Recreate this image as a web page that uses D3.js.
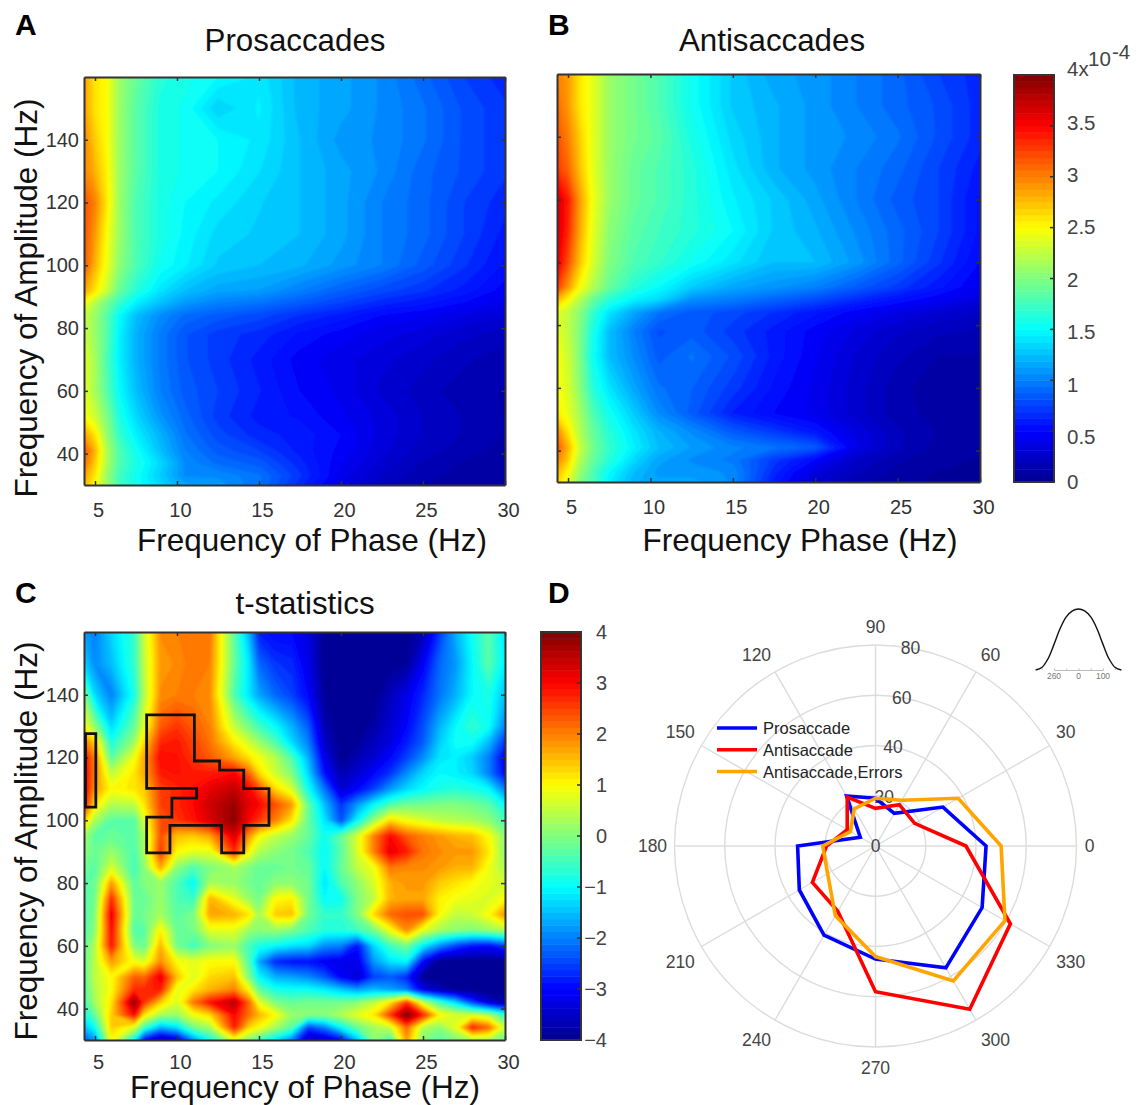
<!DOCTYPE html>
<html>
<head>
<meta charset="utf-8">
<script src="https://cdn.jsdelivr.net/npm/d3@7"></script>
<style>
  body { margin: 0; background: #fff; }
  svg text { font-family: "Liberation Sans", Arial, sans-serif; }
</style>
</head>
<body>
<svg id="fig" width="1136" height="1105"></svg>
<script>
// frequency nodes for the two upper maps
const phaseNodes = [4.3, 5, 5.7, 6.5, 7.5, 9, 10.5, 12.5, 15, 17.5, 20, 22.5, 25, 27.5, 30];
const ampNodes = [160, 150, 140, 130, 120, 110, 100, 92, 88, 84, 78, 70, 60, 52, 46, 41, 37, 33, 30];

// values x 10^-4, one row per ampNodes entry
const proMap = [
  [2.9, 2.6, 2.5, 2.1, 1.9, 1.65, 1.58, 1.5, 1.42, 1.22, 1.15, 1.05, .9, .75, .65],
  [2.9, 2.6, 2.5, 2.1, 1.85, 1.6, 1.55, 1.32, 1.45, 1.22, 1.15, 1.05, .95, .8, .7],
  [3.0, 2.7, 2.5, 2.1, 1.85, 1.6, 1.55, 1.5, 1.42, 1.25, 1.1, 1.05, .95, .8, .7],
  [3.0, 2.8, 2.55, 2.1, 1.85, 1.6, 1.55, 1.5, 1.38, 1.25, 1.15, 1.05, .9, .8, .7],
  [3.2, 3.0, 2.6, 2.1, 1.8, 1.6, 1.5, 1.42, 1.32, 1.25, 1.15, 1.0, .9, .75, .65],
  [3.2, 2.9, 2.5, 2.1, 1.8, 1.6, 1.48, 1.35, 1.3, 1.25, 1.15, 1.0, .9, .75, .6],
  [3.2, 2.8, 2.45, 2.05, 1.8, 1.55, 1.45, 1.3, 1.25, 1.2, 1.1, 1, .85, .7, .55],
  [2.9, 2.6, 2.3, 1.9, 1.65, 1.4, 1.25, 1.15, 1.12, 1.0, .88, .78, .7, .6, .47],
  [2.5, 2.2, 1.95, 1.7, 1.45, 1.25, 1.1, 1.0, .95, .85, .75, .65, .58, .5, .4],
  [2.3, 2.1, 1.85, 1.5, 1.25, 1.05, .92, .85, .78, .68, .6, .5, .45, .38, .32],
  [2.3, 2.1, 1.85, 1.45, 1.2, .98, .82, .72, .66, .55, .47, .4, .34, .27, .22],
  [2.4, 2.15, 1.8, 1.45, 1.2, .98, .82, .72, .6, .47, .4, .33, .27, .2, .15],
  [2.4, 2.15, 1.85, 1.5, 1.25, 1, .85, .75, .63, .5, .42, .3, .22, .15, .12],
  [2.5, 2.3, 2, 1.6, 1.35, 1.08, .9, .72, .6, .55, .45, .35, .25, .18, .12],
  [2.9, 2.6, 2.1, 1.7, 1.45, 1.2, .95, .78, .65, .6, .5, .35, .25, .18, .12],
  [3.2, 2.8, 2.2, 1.8, 1.55, 1.25, 1, .85, .75, .6, .48, .33, .22, .15, .1],
  [3.1, 2.7, 2.2, 1.8, 1.6, 1.35, 1.05, .92, .85, .65, .45, .3, .18, .12, .1],
  [2.9, 2.6, 2.1, 1.75, 1.55, 1.3, 1.05, 1.05, .95, .7, .42, .25, .15, .1, .08],
  [2.8, 2.5, 2.1, 1.75, 1.55, 1.35, 1.15, 1.1, .95, .65, .38, .22, .12, .08, .06]
];

const antiMap = [
  [3.0, 2.9, 2.6, 2.4, 2.1, 1.95, 1.8, 1.55, 1.3, 1.15, 1.1, 1.0, .9, .75, .65],
  [3.1, 2.9, 2.6, 2.4, 2.1, 1.95, 1.8, 1.55, 1.3, 1.2, 1.1, 1.0, .9, .8, .65],
  [3.2, 3.0, 2.7, 2.4, 2.1, 1.95, 1.85, 1.6, 1.35, 1.2, 1.1, 1.05, .95, .8, .65],
  [3.3, 3.1, 2.75, 2.4, 2.1, 1.9, 1.8, 1.65, 1.4, 1.2, 1.1, 1.0, .9, .75, .6],
  [3.7, 3.4, 2.9, 2.45, 2.1, 1.9, 1.8, 1.65, 1.45, 1.3, 1.15, 1.0, .85, .75, .55],
  [3.7, 3.35, 2.85, 2.4, 2.05, 1.85, 1.75, 1.65, 1.5, 1.3, 1.2, 1.05, .9, .75, .55],
  [3.6, 3.2, 2.75, 2.35, 2.0, 1.8, 1.7, 1.55, 1.4, 1.25, 1.25, 1.1, .9, .7, .5],
  [3.3, 2.9, 2.5, 2.2, 1.9, 1.65, 1.5, 1.3, 1.15, 1.08, 1.0, .85, .72, .58, .43],
  [2.8, 2.5, 2.2, 1.9, 1.65, 1.45, 1.35, 1.05, .98, .88, .78, .66, .55, .45, .35],
  [2.4, 2.25, 2.05, 1.7, 1.4, 1.15, .95, .85, .78, .68, .58, .47, .38, .3, .25],
  [2.4, 2.25, 2, 1.6, 1.25, 1.0, .8, .85, .72, .6, .47, .36, .26, .2, .18],
  [2.5, 2.3, 2, 1.55, 1.25, 1.05, .85, .95, .8, .6, .45, .3, .2, .12, .12],
  [2.5, 2.35, 2.05, 1.65, 1.4, 1.15, .95, .88, .72, .55, .42, .28, .15, .08, .08],
  [2.6, 2.4, 2.15, 1.8, 1.55, 1.3, 1.05, .85, .62, .5, .42, .28, .15, .1, .08],
  [3.0, 2.6, 2.2, 1.9, 1.65, 1.4, 1.2, 1.05, .85, .72, .58, .36, .2, .12, .08],
  [3.2, 2.8, 2.3, 1.95, 1.7, 1.45, 1.25, 1.12, 1.02, .95, .85, .4, .2, .1, .08],
  [3.0, 2.7, 2.2, 1.9, 1.65, 1.35, 1.15, 1.05, .98, .72, .5, .25, .14, .08, .06],
  [2.8, 2.5, 2.1, 1.8, 1.5, 1.25, 1.1, 1.1, 1.05, .65, .35, .2, .1, .06, .05],
  [2.7, 2.4, 2.0, 1.8, 1.45, 1.2, 1.15, 1.15, 1.05, .6, .3, .15, .08, .05, .04]
];

// t-statistics map has its own, finer nodes
const tPhaseNodes = [4.3, 5, 6, 7.4, 8, 9, 10, 11, 12, 13.5, 14.4, 15, 16, 17, 18, 19, 20, 21, 22, 23, 24, 25, 26, 27, 28, 29, 30];
const tAmpNodes = [160, 150, 140, 130, 125, 120, 115, 110, 105, 100, 95, 90, 85, 80, 75, 70, 65, 60, 55, 50, 46, 42, 38, 34, 30];
const tMap = [
  [-1.7, -2, -1.3, -.6, .6, 1.9, 2, 2.1, 2.1, -.3, -1.6, -2.8, -3, -3, -3.3, -4, -4, -4, -4, -4, -4, -3.7, -2.6, -1.6, -.9, -.3, -1.2],
  [-1.3, -1.9, -1.5, -.6, .5, 1.8, 1.9, 2.1, 2.0, -.2, -1.2, -2.2, -2.6, -2.7, -3.2, -4, -4, -4, -4, -4, -3.9, -3.1, -2.2, -1.8, -1, -.3, -1.1],
  [.1, -1.3, -2, -.8, .4, 1.9, 2, 2, 1.9, -.4, -1.2, -1.7, -2.2, -2.5, -3, -3.9, -4, -4, -4, -3.6, -3.2, -2.7, -2.1, -1.6, -1, -.8, -1.5],
  [1, .1, -1.3, -.2, .8, 2.3, 2.6, 2.3, 2, .5, -.1, -.5, -1, -1.6, -2.3, -3.7, -4, -4, -3.8, -3.4, -3, -2.4, -1.6, -1, -.6, -.9, -2],
  [2.2, 1.3, -.8, .2, 1.3, 2.7, 2.8, 2.5, 2.1, 1.1, .6, .2, -.4, -1.3, -2, -3.5, -4, -3.9, -3.6, -3.3, -2.8, -2.3, -1.4, -.9, -.9, -1.5, -2.6],
  [3, 2, -.3, .9, 1.7, 3, 2.9, 2.6, 2.3, 1.7, 1.2, .9, .4, -.4, -1.6, -3.2, -4, -3.7, -3.4, -3, -2.5, -1.9, -1.2, -1.1, -1.4, -2, -3.1],
  [3.2, 2, .5, 1.2, 1.7, 2.8, 2.9, 2.8, 2.8, 3, 2.2, 1.3, .6, 0, -1.3, -2.9, -3.7, -3.4, -3, -2.6, -1.9, -1.3, -1, -1.1, -1.3, -2, -3],
  [3.3, 1.8, 1, 1.2, 1.4, 2.5, 2.7, 2.9, 3.2, 3.5, 3, 2.4, 1.3, .7, -.9, -2.1, -3.4, -3, -2.5, -1.8, -1.3, -1, -.8, -.7, -.8, -1, -2],
  [3, 1.2, .4, .5, 1.2, 2.5, 2.7, 3, 3.4, 3.8, 3.2, 3, 2.4, 1.8, -.2, -1.5, -2.6, -1.8, -1, -.4, -.1, -.1, 0, 0, -.1, -.3, -1],
  [1.6, .3, -.3, -.3, .7, 2.4, 2.6, 2.9, 3.3, 3.9, 3, 2.6, 2, 1.2, -.2, -1.2, -2.4, -1, .2, 1.3, .9, .7, .5, .4, .3, .1, -.4],
  [.3, -.3, -.2, -.3, .3, 2.4, 1.5, 1.4, 1.7, 3.3, 1.8, 1, .5, .2, -.2, -.9, -.2, .7, 2, 3, 2.3, 2, 1.8, 1.6, 1.5, 1, .1],
  [.1, -.2, .2, -.4, .3, 2.6, 1, .8, .8, 2.7, 1, .4, .1, -.1, -.4, -1, -.3, .7, 2, 3.2, 2.8, 2.1, 1.9, 1.8, 1.8, 1.2, .1],
  [-.1, -.3, .7, -.5, .1, 1.7, .1, -.4, 0, .3, 0, -.2, -.2, -.1, -.2, -1, -.2, .5, .9, 2.1, 1.9, 1.9, 1.8, 1.6, 1.6, .9, .3],
  [-.3, -.2, 1.8, -.3, 0, .2, -.4, -1, .3, .2, -.1, -.2, .1, .1, -.1, -1.2, -.4, .1, .7, 1.6, 1.8, 1.8, 1.4, 1.2, 1, .8, .6],
  [-.4, -.1, 2.7, -.2, -.2, .2, -.4, -.6, 1.6, .8, .2, -.1, 1.0, 1.1, -.1, -1, -.9, 0, .5, 1.6, 1.7, 1.7, 1.1, .9, .8, .7, 1],
  [-.4, 0, 3.2, -.2, -.1, .3, -.3, 0, 1.7, 1.6, 1.2, .3, 1.4, 1.5, -.1, -.6, -.6, 0, 1.3, 2.2, 2.4, 2.4, 1, .5, .6, 1, 1.9],
  [-.4, .1, 3, -.4, -.3, 1.1, -.2, -.1, .8, .8, .2, .1, .2, 0, -.4, -.7, -.7, -.5, -.1, .9, 1.9, .8, .3, .1, 0, .2, .4],
  [-.3, .4, 2.9, 0, -.2, 1.6, -.1, -.5, 0, .2, -.5, -.8, -1, -1.2, -1.3, -1.9, -2, -2.9, -1.3, -.5, -.1, -1.1, -1.9, -2.5, -2.9, -3, -2.5],
  [-.3, .5, 1.8, .9, .7, 1.9, 1, .8, 1, 1, -.4, -1.7, -2.7, -2.9, -2.9, -3.1, -3.2, -3.2, -1.8, -1.2, -1, -3, -4, -4, -4, -4, -4],
  [-.3, .5, 1, 2.3, 2.2, 3.2, 1.5, .7, 1.3, 1.5, 0, -1, -1.6, -1.7, -1.9, -2.3, -3, -3.4, -2.5, -2.3, -2.7, -3.9, -4, -4, -4, -4, -4],
  [-.4, .4, 1, 2.7, 2.7, 2.8, .8, 1.2, 1.6, 2, 1, -.2, -.8, -.9, -.9, -1.1, -1.4, -1.7, -1.5, -1.7, -2, -3.2, -3.6, -3.9, -4, -4, -4],
  [-.5, .3, 1.2, 3.9, 2.6, 1.4, .7, 2.1, 2.9, 3.6, 2.2, .8, 0, -.2, -.1, -.1, -.1, .1, .5, 1.2, 2.6, .6, -.5, -1.3, -2.5, -3.4, -3.8],
  [-.9, -.2, 1.4, 3, 1.2, .3, .2, .9, 1.3, 3, 2.1, 1.6, 1, .2, .1, .1, .4, .8, 1.2, 2.6, 4.1, 2.8, 1.1, .7, .7, .4, -.6],
  [-1.5, -.9, 1.4, .7, -.5, -1.6, -1.2, -.1, .3, 2.8, 1.3, 1, .3, -.3, -2.5, -2, -1, -.2, .3, .6, 2.2, .4, .1, .8, 2.8, 2.2, .6],
  [-2.3, -1.8, 1, -1, -3, -3.8, -3.4, -1.9, -.9, .8, 0, -.5, -1.2, -2, -3.6, -3.5, -3, -1.5, .1, -.5, 1.8, 0, -.3, 0, .3, .3, -.2]
];

// significant clusters on the t map (Hz)
const clusterMainPhase = [8.15, 11.06, 11.06, 12.6, 12.6, 14.07, 14.07, 15.61, 15.61, 14.07, 14.07, 12.72, 12.72, 9.57, 9.57, 8.15, 8.15, 9.69, 9.69, 11.2, 11.2, 8.15];
const clusterMainAmp = [133.6, 133.6, 118.9, 118.9, 116, 116, 110.1, 110.1, 98.4, 98.4, 89.6, 89.6, 98.4, 98.4, 89.6, 89.6, 101, 101, 107.1, 107.1, 110.2, 110.2];
const clusterEdgePhase = [4.42, 5.05, 5.05, 4.42];
const clusterEdgeAmp = [127.6, 127.6, 104.2, 104.2];

// polar panel
const polarAngles = [0, 30, 60, 90, 120, 150, 180, 210, 240, 270, 300, 330];
const prosaccade = [44, 31, 15, 19, 23, 7, 31, 35, 41, 45, 56, 49];
const antisaccade = [36, 18, 19, 15, 22.5, 13, 19.5, 29, 30, 58, 75, 62];
const antiErrors = [50, 38, 21, 19, 17, 11.5, 21, 22, 32, 44, 62, 59.5];
const radialTicks = [20, 40, 60, 80];

// small waveform inset
const waveX = [-175, -150, -125, -100, -75, -50, -25, 0, 25, 50, 75, 100, 125, 150, 175];
const waveY = [0, .04, .18, .42, .68, .87, .97, 1, .97, .87, .68, .42, .18, .04, 0];

const phaseTicks = [5, 10, 15, 20, 25, 30];
const ampTicks = [40, 60, 80, 100, 120, 140];
const cbarTicksTop = [0, .5, 1, 1.5, 2, 2.5, 3, 3.5, 4];
const cbarTicksT = [-4, -3, -2, -1, 0, 1, 2, 3, 4];

const svg = d3.select('#fig');
const ink = '#333';

// MATLAB jet
const jet = d3.scaleLinear()
  .domain([0, .125, .375, .625, .875, 1])
  .range(['#00008f', '#0000ff', '#00ffff', '#ffff00', '#ff0000', '#800000'])
  .clamp(true);

// the source image is a bit soft, take the corners off the contours
svg.append('filter').attr('id', 'soft')
  .attr('x', '-5%').attr('y', '-5%').attr('width', '110%').attr('height', '110%')
  .append('feGaussianBlur').attr('stdDeviation', 1.3);

let clipId = 0;

function drawMap(box, grid, xNodes, yNodes, lo, hi, yLabels, xPad = 18) {
  let x = d3.scaleLinear().domain([4.33, 30]).range([box.left, box.right]);
  let y = d3.scaleLinear().domain([30, 160]).range([box.bottom, box.top]);
  let w = box.right - box.left, h = box.bottom - box.top;
  let color = v => jet((v - lo) / (hi - lo));

  // grid index -> Hz, nodes are not evenly spaced
  let colHz = d3.scaleLinear().domain(xNodes.map((d, i) => i + .5)).range(xNodes);
  let rowHz = d3.scaleLinear().domain(yNodes.map((d, i) => i + .5)).range(yNodes);

  let path = d3.geoPath(d3.geoTransform({
    point(px, py) { this.stream.point(x(colHz(px)), y(rowHz(py))); }
  }));

  let id = 'clip' + (++clipId);
  svg.append('clipPath').attr('id', id).append('rect')
    .attr('x', box.left).attr('y', box.top).attr('width', w).attr('height', h);

  let levels = d3.range(lo, hi, (hi - lo) / 64);
  let contours = d3.contours()
    .size([xNodes.length, yNodes.length])
    .thresholds(levels)(grid.flat());

  let g = svg.append('g').attr('clip-path', `url(#${id})`);
  g.append('rect').attr('x', box.left).attr('y', box.top).attr('width', w).attr('height', h)
    .attr('fill', color(lo));
  g.append('g').attr('filter', 'url(#soft)')
    .selectAll('path').data(contours).join('path')
    .attr('d', path)
    .attr('fill', d => color(d.value + (hi - lo) / 128));

  // box with inward ticks on all sides
  let axes = [
    [d3.axisBottom(x).tickValues(phaseTicks).tickFormat(d => d), `translate(0,${box.bottom})`],
    [d3.axisTop(x).tickValues(phaseTicks).tickFormat(''), `translate(0,${box.top})`],
    [d3.axisLeft(y).tickValues(ampTicks).tickFormat(yLabels ? (d => d) : ''), `translate(${box.left},0)`],
    [d3.axisRight(y).tickValues(ampTicks).tickFormat(''), `translate(${box.right},0)`]
  ];
  axes.forEach(([axis, tr], i) => {
    let a = svg.append('g').attr('transform', tr)
      .call(axis.tickSizeInner(-4).tickSizeOuter(0).tickPadding(i === 0 ? xPad : 5));
    a.selectAll('.domain').attr('stroke', ink).attr('stroke-width', 2);
    a.selectAll('line').attr('stroke', ink).attr('stroke-width', 1.5);
    a.selectAll('text').attr('font-size', 20).attr('fill', ink)
      .attr('font-family', '"Liberation Sans", Arial, sans-serif');
    if (i === 0) a.selectAll('text').attr('dx', 3);
  });
  return { x, y };
}

function drawColorbar(box, lo, hi, ticks) {
  let y = d3.scaleLinear().domain([lo, hi]).range([box.bottom, box.top]);
  let step = (hi - lo) / 64;
  svg.append('g').selectAll('rect').data(d3.range(lo, hi, step)).join('rect')
    .attr('x', box.left)
    .attr('y', d => y(d + step))
    .attr('width', box.right - box.left)
    .attr('height', d => y(d) - y(d + step) + .5)
    .attr('fill', d => jet((d + step / 2 - lo) / (hi - lo)));
  svg.append('rect').attr('x', box.left).attr('y', box.top)
    .attr('width', box.right - box.left).attr('height', box.bottom - box.top)
    .attr('fill', 'none').attr('stroke', ink).attr('stroke-width', 2);
  svg.append('g').selectAll('line').data(ticks).join('line')
    .attr('x1', box.right - 4).attr('x2', box.right)
    .attr('y1', d => y(d)).attr('y2', d => y(d))
    .attr('stroke', ink).attr('stroke-width', 1.5);
  return y;
}

function label(txt, x, y, size, opts = {}) {
  let t = svg.append('text').attr('x', x).attr('y', y)
    .attr('font-size', size)
    .attr('fill', opts.fill || '#111')
    .attr('text-anchor', opts.anchor || 'middle')
    .attr('font-weight', opts.weight || 'normal')
    .text(txt);
  if (opts.rotate) t.attr('transform', `rotate(-90 ${x} ${y})`);
  return t;
}

// ---- heat maps
const boxA = { left: 84, right: 505, top: 77, bottom: 485 };
const boxB = { left: 557, right: 980, top: 74, bottom: 482 };
const boxC = { left: 84, right: 505, top: 632, bottom: 1040 };

drawMap(boxA, proMap, phaseNodes, ampNodes, 0, 4, true);
drawMap(boxB, antiMap, phaseNodes, ampNodes, 0, 4, false);
let mapC = drawMap(boxC, tMap, tPhaseNodes, tAmpNodes, -4, 4, true, 15);

// cluster outlines
let clusterLine = d3.line().x(d => mapC.x(d[0])).y(d => mapC.y(d[1])).curve(d3.curveLinearClosed);
[[clusterMainPhase, clusterMainAmp], [clusterEdgePhase, clusterEdgeAmp]].forEach(([px, py]) => {
  svg.append('path')
    .attr('d', clusterLine(px.map((d, i) => [d, py[i]])))
    .attr('fill', 'none').attr('stroke', '#111').attr('stroke-width', 2.8);
});

// ---- colorbars
const barTop = drawColorbar({ left: 1014, right: 1054, top: 75, bottom: 482 }, 0, 4, cbarTicksTop);
const barT = drawColorbar({ left: 541, right: 581, top: 632, bottom: 1040 }, -4, 4, cbarTicksT);

// the upper bar's printed labels are spaced a bit wider than its ticks
let barLabelY = d3.scaleLinear().domain([.5, 3.5]).range([444, 129.5]);
cbarTicksTop.filter(d => d > 0 && d < 4).forEach(d =>
  label(d, 1067, barLabelY(d), 20.5, { anchor: 'start', fill: '#444' }));
label(0, 1067, 489, 20.5, { anchor: 'start', fill: '#444' });
label('4x', 1067, 76, 20.5, { anchor: 'start', fill: '#444' });
label('10', 1088, 66, 20.5, { anchor: 'start', fill: '#444' });
label('-4', 1112, 59, 20.5, { anchor: 'start', fill: '#444' });

cbarTicksT.forEach(d =>
  label(String(d).replace('-', '\u2212'), 607, barT(d) + 7, 20, { anchor: 'end', fill: '#444' }));

// ---- titles and axis names
label('A', 15, 35, 30, { anchor: 'start', weight: 'bold', fill: '#000' });
label('B', 548, 35, 30, { anchor: 'start', weight: 'bold', fill: '#000' });
label('C', 15, 603, 30, { anchor: 'start', weight: 'bold', fill: '#000' });
label('D', 548, 603, 30, { anchor: 'start', weight: 'bold', fill: '#000' });

label('Prosaccades', 295, 51, 31.3);
label('Antisaccades', 772, 51, 31.3);
label('t-statistics', 305, 614, 31.3);

label('Frequency of Phase (Hz)', 312, 551, 31.5);
label('Frequency Phase (Hz)', 800, 551, 31.5);
label('Frequency of Phase (Hz)', 305, 1098, 31.5);
label('Frequency of Amplitude (Hz)', 37, 298, 31.5, { rotate: true });
label('Frequency of Amplitude (Hz)', 37, 841, 31.5, { rotate: true });

// ---- polar panel
const polar = svg.append('g').attr('transform', 'translate(875.5,846)');
const r = d3.scaleLinear().domain([0, 80]).range([0, 201]);
const rad = a => a * Math.PI / 180;

polar.selectAll('circle').data(radialTicks).join('circle')
  .attr('r', d => r(d))
  .attr('fill', 'none').attr('stroke', '#dcdcdc').attr('stroke-width', 1.4);
polar.selectAll('line').data(polarAngles).join('line')
  .attr('x2', a => r(80) * Math.cos(rad(a)))
  .attr('y2', a => -r(80) * Math.sin(rad(a)))
  .attr('stroke', '#dcdcdc').attr('stroke-width', 1.4);

// angle labels don't sit on a perfect circle in the figure
const angleNudge = {
  0: [0, 0], 30: [-2, -3], 60: [4, 1], 90: [0, 3], 120: [-8, 1], 150: [-3, -3],
  180: [-1, 0], 210: [-3, 5], 240: [-8, 1.5], 270: [0, 0], 300: [9, 2], 330: [3, 5]
};
polar.selectAll('text.angle').data(polarAngles).join('text')
  .attr('class', 'angle')
  .attr('x', a => (a === 0 ? 214 : 222) * Math.cos(rad(a)) + angleNudge[a][0])
  .attr('y', a => -222 * Math.sin(rad(a)) + 6 + angleNudge[a][1])
  .attr('text-anchor', 'middle').attr('font-size', 17.5).attr('fill', '#444')
  .text(a => a);

polar.selectAll('text.radial').data(radialTicks).join('text')
  .attr('class', 'radial')
  .attr('x', d => r(d) * Math.cos(rad(80)))
  .attr('y', d => -r(d) * Math.sin(rad(80)) + 6)
  .attr('text-anchor', 'middle').attr('font-size', 17.5).attr('fill', '#444')
  .text(d => d);
polar.append('text').attr('y', 6).attr('text-anchor', 'middle')
  .attr('font-size', 17.5).attr('fill', '#444').text(0);

const radar = d3.lineRadial()
  .angle((d, i) => rad(90 - polarAngles[i]))
  .radius(d => r(d))
  .curve(d3.curveLinearClosed);

const seriesList = [
  { name: 'Prosaccade', values: prosaccade, color: '#0000ff' },
  { name: 'Antisaccade', values: antisaccade, color: '#ff0000' },
  { name: 'Antisaccade,Errors', values: antiErrors, color: '#ffa500' }
];

polar.selectAll('path.series').data(seriesList).join('path')
  .attr('class', 'series')
  .attr('d', d => radar(d.values))
  .attr('fill', 'none').attr('stroke', d => d.color)
  .attr('stroke-width', 3.6).attr('stroke-linejoin', 'miter');

// legend
const legendY = d3.scalePoint().domain(seriesList.map(d => d.name)).range([728, 771.5]);
seriesList.forEach(d => {
  svg.append('line')
    .attr('x1', 717).attr('x2', 757)
    .attr('y1', legendY(d.name)).attr('y2', legendY(d.name))
    .attr('stroke', d.color).attr('stroke-width', 3.6);
  label(d.name, 763, legendY(d.name) + 6, 16.5, { anchor: 'start', fill: '#222' });
});

// ---- waveform inset
const waveXScale = d3.scaleLinear().domain([-100, 100]).range([1054, 1103]);
const waveYScale = d3.scaleLinear().domain([0, 1]).range([670, 609]);
const inset = svg.append('g');
inset.append('g').attr('transform', 'translate(0,670)')
  .call(d3.axisBottom(waveXScale).tickValues([-150, -100, -50, 0, 50, 100, 150]).tickSizeInner(-1.5).tickSizeOuter(0).tickFormat(''))
  .call(a => a.selectAll('.domain,line').attr('stroke', '#aaa').attr('stroke-width', .8));
[[-100, '260'], [0, '0'], [100, '100']].forEach(([v, t]) =>
  label(t, waveXScale(v), 679, 8.5, { fill: '#777' }));
inset.append('path')
  .attr('d', d3.line()
    .x((d, i) => waveXScale(waveX[i]))
    .y(d => waveYScale(d))
    .curve(d3.curveCatmullRom)(waveY))
  .attr('fill', 'none').attr('stroke', '#111').attr('stroke-width', 1.4);
</script>
</body>
</html>
